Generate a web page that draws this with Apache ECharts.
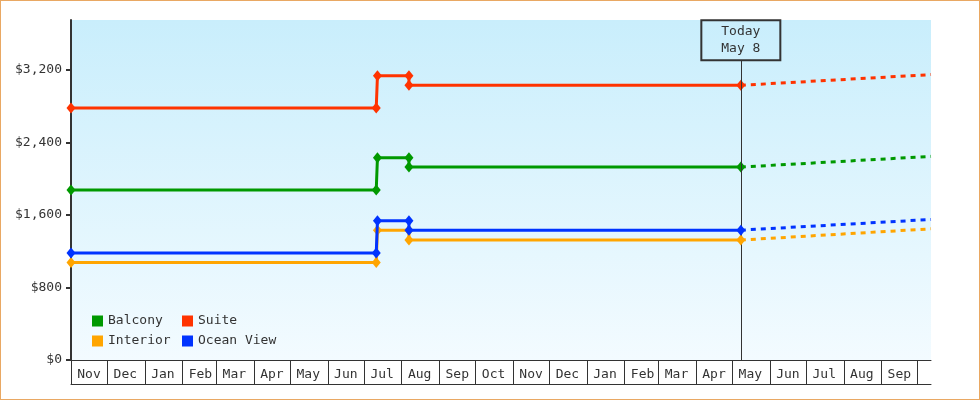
<!DOCTYPE html>
<html>
<head>
<meta charset="utf-8">
<script src="https://cdn.jsdelivr.net/npm/echarts@6/dist/echarts.min.js"></script>
<style>
html,body{margin:0;padding:0;background:#fff;}
#c{position:absolute;left:0;top:0;width:980px;height:400px;}
#frame{position:absolute;left:0;top:0;width:980px;height:400px;box-sizing:border-box;border:1px solid #e9a863;pointer-events:none;}
</style>
</head>
<body>
<div id="c"></div>
<div id="frame"></div>
<script>
// ---- data ----
const seriesNames = ['Balcony', 'Suite', 'Interior', 'Ocean View'];
const seriesColors = ['#009900', '#ff3300', '#ffa500', '#0033ff'];

const historyDates = ['2013-11-01', '2014-07-11', '2014-07-12', '2014-08-07', '2014-08-07', '2015-05-08'];
const balcony   = [1875, 1875, 2230, 2230, 2128, 2128];
const suite     = [2780, 2780, 3135, 3135, 3030, 3030];
const interior  = [1075, 1075, 1432, 1432, 1323, 1323];
const oceanView = [1179, 1179, 1535, 1535, 1432, 1432];

const forecastDates = ['2015-05-08', '2015-10-12'];
const balconyForecast   = [2128, 2246];
const suiteForecast     = [3030, 3148];
const interiorForecast  = [1323, 1447];
const oceanViewForecast = [1432, 1550];

const todayDate = '2015-05-08';
const todayLabel = 'Today\nMay 8';

const xTickDates = ['2013-11-01','2013-12-01','2014-01-01','2014-02-01','2014-03-01','2014-04-01',
  '2014-05-01','2014-06-01','2014-07-01','2014-08-01','2014-09-01','2014-10-01','2014-11-01',
  '2014-12-01','2015-01-01','2015-02-01','2015-03-01','2015-04-01','2015-05-01','2015-06-01',
  '2015-07-01','2015-08-01','2015-09-01','2015-10-01'];
const xTickLabels = ['Nov','Dec','Jan','Feb','Mar','Apr','May','Jun','Jul','Aug','Sep','Oct',
  'Nov','Dec','Jan','Feb','Mar','Apr','May','Jun','Jul','Aug','Sep'];
const xMin = '2013-11-01';
const xMax = '2015-10-12';

const yTicks = [0, 800, 1600, 2400, 3200];
const yMax = 3750;

// ---- helpers ----
function ts(s) { const p = s.split('-'); return Date.UTC(+p[0], +p[1] - 1, +p[2]); }
function pairs(dates, vals) { return dates.map((d, i) => [ts(d), vals[i]]); }

const FONT = 'DejaVu Sans Mono';
const TXT = '#333';
const tickTs = xTickDates.map(ts);
const labelTs = tickTs.slice(0, xTickLabels.length);

const hist = [balcony, suite, interior, oceanView];
const fore = [balconyForecast, suiteForecast, interiorForecast, oceanViewForecast];

const series = [];
seriesNames.forEach((name, i) => {
  const s = {
    name, type: 'line', data: pairs(historyDates, hist[i]),
    symbol: 'diamond', symbolSize: [9, 11], showSymbol: true,
    lineStyle: { width: 3, color: seriesColors[i] },
    itemStyle: { color: seriesColors[i] },
    emphasis: { disabled: true }, silent: true, z: 3 + i
  };
  if (i === 0) {
    s.markLine = {
      silent: true, symbol: ['none', 'none'], animation: false,
      lineStyle: { color: '#333', width: 1, type: 'solid' },
      label: {
        show: true, position: 'start', distance: 0, formatter: todayLabel,
        fontFamily: FONT, fontSize: 13, color: TXT, lineHeight: 17,
        width: 79, align: 'center', padding: [3, 0, 3, 0],
        borderColor: '#333', borderWidth: 1, backgroundColor: 'transparent'
      },
      data: [[{ coord: [ts(todayDate), 3305] }, { coord: [ts(todayDate), 0] }]]
    };
  }
  series.push(s);
});
seriesNames.forEach((name, i) => {
  series.push({
    name, type: 'line', data: pairs(forecastDates, fore[i]),
    symbol: 'none', showSymbol: false,
    lineStyle: { width: 3, color: seriesColors[i], type: [5, 5] },
    itemStyle: { color: seriesColors[i] },
    emphasis: { disabled: true }, silent: true, z: 2
  });
});

const chart = echarts.init(document.getElementById('c'), null, { renderer: 'canvas' });
chart.setOption({
  animation: false,
  grid: {
    left: 71, right: 49, top: 20, bottom: 40, show: true, borderWidth: 0,
    backgroundColor: { type: 'linear', x: 0, y: 0, x2: 0, y2: 1,
      colorStops: [{ offset: 0, color: '#c9eefc' }, { offset: 1, color: '#f3fbff' }] }
  },
  legend: {
    orient: 'vertical', left: 92, top: 311, height: 42, padding: 0, itemGap: 0,
    itemWidth: 11, itemHeight: 11, icon: 'rect',
    data: ['Balcony', 'Interior', 'Suite', 'Ocean View'],
    textStyle: { fontFamily: FONT, fontSize: 13, color: TXT, width: 74, lineHeight: 20 },
    selectedMode: false
  },
  xAxis: [{
    type: 'value', min: ts(xMin), max: ts(xMax),
    axisLine: { show: true, onZero: false, lineStyle: { color: '#333', width: 1 } },
    axisTick: { show: true, customValues: tickTs, length: 24, lineStyle: { color: '#333', width: 1 } },
    axisLabel: {
      show: true, customValues: labelTs, margin: 8, padding: [0, 0, 0, 36],
      fontFamily: FONT, fontSize: 13, color: TXT, hideOverlap: false,
      showMinLabel: true, showMaxLabel: true,
      formatter: (v) => { const k = tickTs.indexOf(v); return k >= 0 && k < xTickLabels.length ? xTickLabels[k] : ''; }
    },
    splitLine: { show: false }
  }, {
    type: 'value', min: ts(xMin), max: ts(xMax), position: 'bottom', offset: 24,
    axisLine: { show: true, onZero: false, lineStyle: { color: '#333', width: 1 } },
    axisTick: { show: false }, axisLabel: { show: false }, splitLine: { show: false }
  }],
  yAxis: {
    type: 'value', min: 0, max: yMax,
    axisLine: { show: true, lineStyle: { color: '#333', width: 2 } },
    axisTick: { show: true, customValues: yTicks, length: 5, lineStyle: { color: '#333', width: 2 } },
    axisLabel: {
      customValues: yTicks, margin: 9, fontFamily: FONT, fontSize: 13, color: TXT,
      formatter: (v) => '$' + Number(v).toLocaleString('en-US')
    },
    splitLine: { show: false }
  },
  series
});
</script>
</body>
</html>
